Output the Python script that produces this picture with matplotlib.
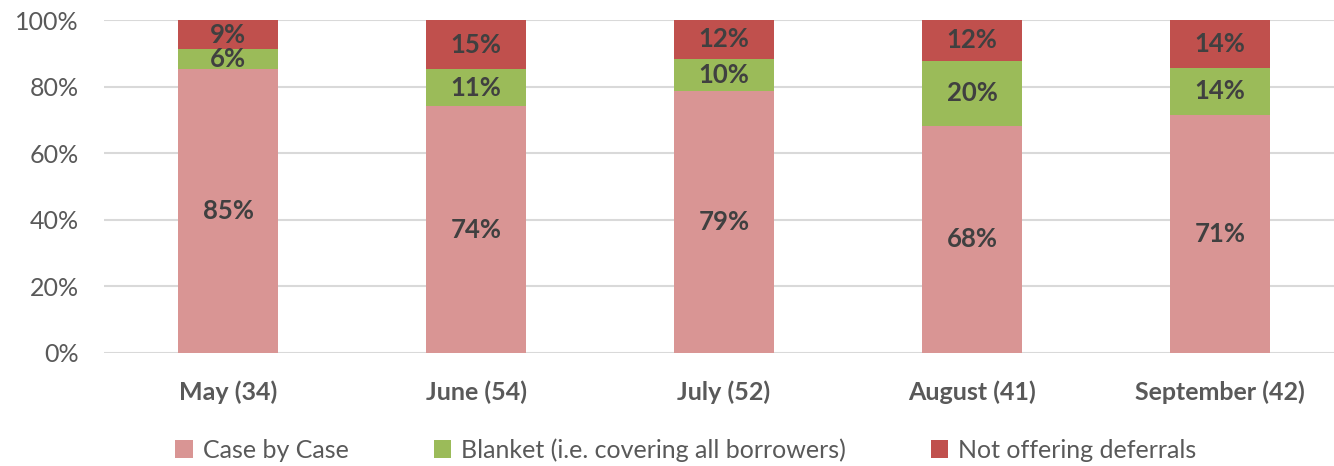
import matplotlib.pyplot as plt
import numpy as np

months = ['May (34)', 'June (54)', 'July (52)', 'August (41)', 'September (42)']
case_by_case = [85.3, 74.1, 78.8, 68.3, 71.4]
blanket = [5.9, 11.1, 9.6, 19.5, 14.3]
not_offering = [8.8, 14.8, 11.6, 12.2, 14.3]

series = [
    ('Case by Case', case_by_case, '#D99594'),
    ('Blanket (i.e. covering all borrowers)', blanket, '#9BBB59'),
    ('Not offering deferrals', not_offering, '#C0504D'),
]

plt.rcParams['font.family'] = ['Lato', 'DejaVu Sans']

fig = plt.figure(figsize=(13.34, 4.66), dpi=100)
ax = fig.add_axes([104 / 1334, 1 - 353 / 466, 1240 / 1334, 333 / 466])

x = np.arange(len(months))
bottom = np.zeros(len(months))
for name, vals, color in series:
    vals = np.array(vals)
    ax.bar(x, vals, 0.403, bottom=bottom, color=color, label=name, zorder=2)
    for xi, b, v in zip(x, bottom, vals):
        ax.text(xi, b + v / 2, f'{round(v)}%', ha='center', va='center',
                fontsize=18.5, fontweight='bold', color='#404040', zorder=3)
    bottom += vals

ax.set_xlim(-0.5, len(months) - 0.5)
ax.set_ylim(0, 100)
ax.set_yticks(range(0, 101, 20))
ax.set_yticklabels([f'{t}%' for t in range(0, 101, 20)])
ax.set_xticks(x)
ax.set_xticklabels(months, fontweight='bold')
ax.tick_params(axis='y', length=0, pad=18, labelsize=18, labelcolor='#595959')
ax.tick_params(axis='x', length=0, pad=20, labelsize=18, labelcolor='#595959')
ax.grid(axis='y', color='#D9D9D9', linewidth=1.5, zorder=0)
for s in ax.spines.values():
    s.set_visible(False)

fig.legend(loc='center', bbox_to_anchor=(686 / 1334, 1 - 450 / 466), ncol=3,
           frameon=False, fontsize=18, labelcolor='#595959', handlelength=0.7,
           handleheight=0.7, handletextpad=0.4, columnspacing=3.4)

fig.savefig('out.png', dpi=100)
